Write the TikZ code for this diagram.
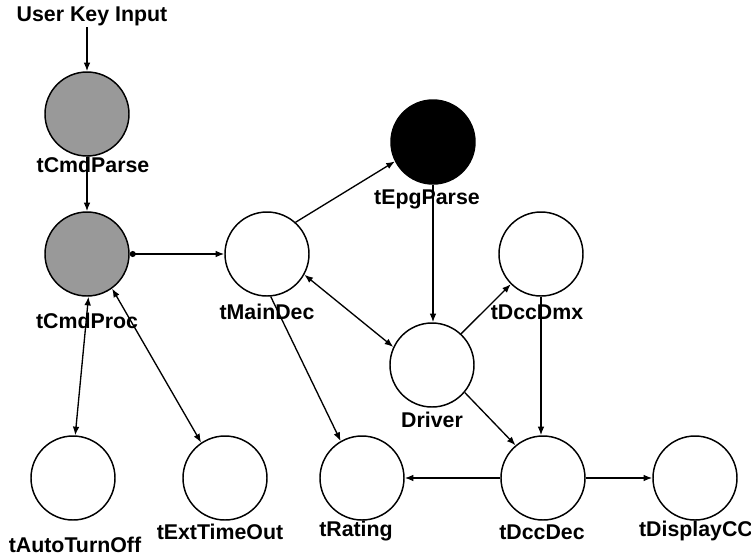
\documentclass[tikz,border=0pt]{standalone}
\usepackage{fontspec}
\setmainfont{Liberation Sans}
\usetikzlibrary{arrows.meta}
\begin{document}
\begin{tikzpicture}[x=0.75pt,y=-0.75pt,
  task/.style={circle,draw=black,line width=1.1pt,fill=white,minimum size=63pt,inner sep=0pt},
  grey/.style={task,fill=black!40},
  dark/.style={task,fill=black},
  lbl/.style={inner sep=0pt,font=\fontsize{16}{19}\selectfont\bfseries},
  conn/.style={line width=1pt,-{Latex[length=6.5pt,width=5pt]}},
  both/.style={line width=1pt,{Latex[length=6.5pt,width=5pt]}-{Latex[length=6.5pt,width=5pt]}},
  dotarrow/.style={line width=1pt,{Circle[length=4.5pt]}-{Latex[length=6.5pt,width=5pt]}}]
\useasboundingbox (0,0) rectangle (751,558);
% nodes
\node[grey] (cmdparse) at (87,114) {};
\node[grey] (cmdproc) at (87,254) {};
\node[task] (maindec) at (267,254) {};
\node[dark] (epg) at (433,142) {};
\node[task] (driver) at (432,365) {};
\node[task] (dmx) at (541,254) {};
\node[task] (auto) at (73,478) {};
\node[task] (ext) at (225,478) {};
\node[task] (rating) at (362,478) {};
\node[task] (dccdec) at (543,478) {};
\node[task] (disp) at (695,478) {};
% labels
\node[lbl] (uki) at (92,16) {User Key Input};
\node[lbl] (lcmdparse) at (93,165) {tCmdParse};
\node[lbl] (lcmdproc) at (87,321) {tCmdProc};
\node[lbl] (lmaindec) at (267,312) {tMainDec};
\node[lbl] (lepg) at (427,199) {tEpgParse};
\node[lbl] (ldriver) at (432,420) {Driver};
\node[lbl] (ldmx) at (537,312) {tDccDmx};
\node[lbl] (lauto) at (75,545) {tAutoTurnOff};
\node[lbl] (lext) at (220,532) {tExtTimeOut};
\node[lbl] (lrating) at (356,531) {tRating};
\node[lbl] (ldccdec) at (542,532) {tDccDec};
\node[lbl] (ldisp) at (696,531) {tDisplayCC};
% connectors
\coordinate (ukibot) at (87,27);
\draw[conn] (ukibot) -- (cmdparse.north);
\draw[conn] (cmdparse.south) -- (cmdproc.north);
\draw[dotarrow] (cmdproc.east) -- (maindec.west);
\draw[both] (cmdproc.-88) -- (auto.87);
\draw[both] (cmdproc.-54) -- (ext.124);
\draw[conn] (maindec.48) -- (epg.207);
\draw[both] (maindec.-29) -- (driver.155);
\draw[conn] (epg.south) -- (epg.south |- driver.north);
\draw[conn] (driver.47) -- (dmx.225);
\draw[conn] (dmx.south) -- (dmx.south |- dccdec.north);
\draw[conn] (driver.-40) -- (dccdec.130);
\draw[conn] (maindec.-85) -- (rating.120);
\draw[conn] (dccdec.west) -- (rating.east);
\draw[conn] (dccdec.east) -- (disp.west);
\end{tikzpicture}
\end{document}
